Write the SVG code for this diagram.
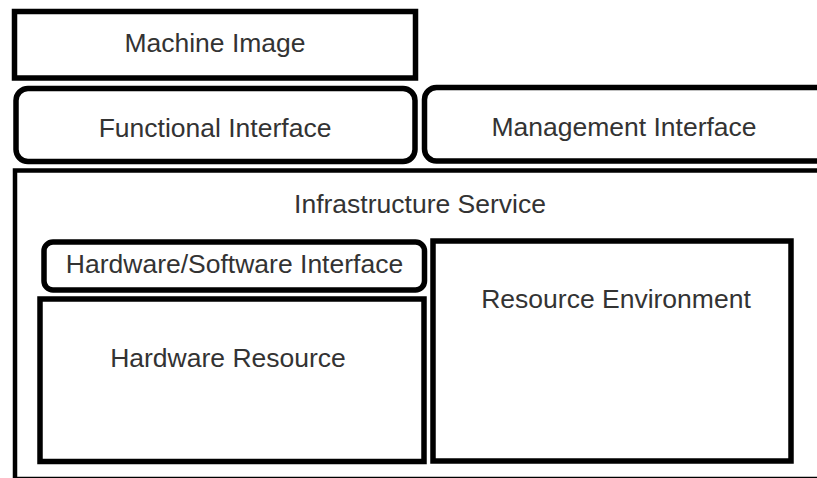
<svg xmlns="http://www.w3.org/2000/svg" width="817" height="478" viewBox="0 0 817 478">
<style>
.box{fill:#fff;stroke:#000;stroke-width:5.5}
.outer{fill:#fff;stroke:#000;stroke-width:4.5}
.lbl{font-family:"Liberation Sans",Arimo,Arial,sans-serif;font-size:26.5px;fill:#333;text-anchor:middle}
</style>
<rect width="817" height="478" fill="#fff"/>
<g id="infrastructure-service">
<rect class="outer" x="15" y="170.5" width="830" height="308.5"/>
<text class="lbl" x="420" y="213">Infrastructure Service</text>
</g>
<g id="machine-image">
<rect class="box" x="14.5" y="11.5" width="401" height="66.5"/>
<text class="lbl" x="215" y="52">Machine Image</text>
</g>
<g id="functional-interface">
<rect class="box" x="16" y="88.5" width="399" height="73" rx="12"/>
<text class="lbl" x="215" y="137">Functional Interface</text>
</g>
<g id="management-interface">
<rect class="box" x="424.5" y="87.5" width="410" height="73.5" rx="12"/>
<text class="lbl" x="624" y="136">Management Interface</text>
</g>
<g id="hw-sw-interface">
<rect class="box" x="44" y="242" width="380.5" height="48" rx="9"/>
<text class="lbl" x="234.5" y="273">Hardware/Software Interface</text>
</g>
<g id="hardware-resource">
<rect class="box" x="40" y="299" width="384" height="162.5"/>
<text class="lbl" x="228" y="367">Hardware Resource</text>
</g>
<g id="resource-environment">
<rect class="box" x="433" y="241" width="358" height="220"/>
<text class="lbl" x="616" y="308">Resource Environment</text>
</g>
<g id="connectors"/>
</svg>
